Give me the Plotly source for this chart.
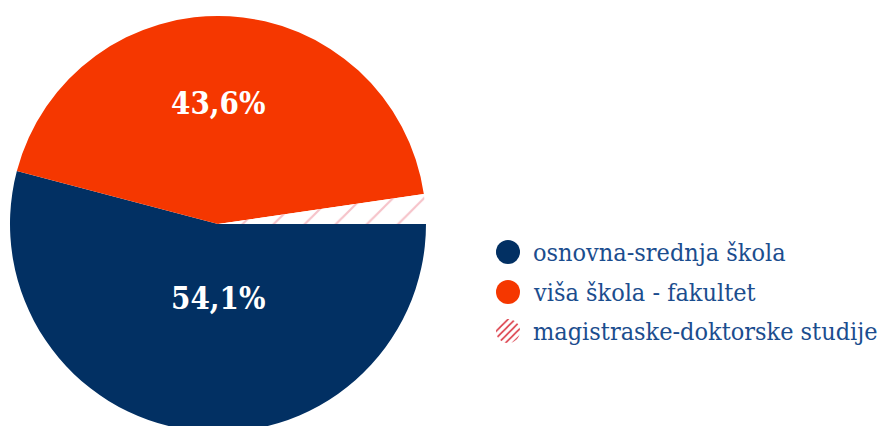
import plotly.graph_objects as go

categories = ["osnovna-srednja škola", "viša škola - fakultet", "magistraske-doktorske studije"]
values = [54.1, 43.6, 2.3]
colors = ["#023063", "#f53700", "#ffffff"]

W, H = 882, 440
cx, cy, r = 218, 224, 208

def px_x(x):
    return x / W

def px_y(y):
    return 1 - y / H

texts = [f"{v:.1f}%".replace(".", ",") for v in values]

fig = go.Figure()
fig.add_trace(go.Pie(
    labels=categories,
    values=values,
    sort=False,
    direction="clockwise",
    rotation=90,
    marker=dict(
        colors=colors,
        line=dict(width=0),
        pattern=dict(shape=["", "", "/"], fgcolor="#e0354a", fgopacity=0.3, bgcolor="#ffffff", size=22, solidity=0.1),
    ),
    textinfo="none",
    domain=dict(x=[px_x(cx - r), px_x(cx + r)], y=[px_y(cy + r), px_y(cy - r)]),
    showlegend=False,
    hoverinfo="label+percent",
))

# slice value labels
label_pos = [(218, 298), (218, 103)]
for i, (lx, ly) in enumerate(label_pos):
    fig.add_annotation(
        text=f"<b>{texts[i]}</b>", x=px_x(lx), y=px_y(ly), xref="paper", yref="paper",
        xanchor="center", yanchor="middle", showarrow=False,
        font=dict(family="DejaVu Serif Condensed, DejaVu Serif", size=31, color="#ffffff"),
    )

# legend: small circular swatches + labels
leg_y = [252, 292, 331]
leg_x = 508
sr = 12
for i, cat in enumerate(categories):
    pat = dict(shape="/", fgcolor="#d9303c", bgcolor="#ffffff", size=5, solidity=0.3) if i == 2 else dict(shape="")
    fig.add_trace(go.Pie(
        labels=[cat], values=[1], sort=False,
        marker=dict(colors=[colors[i]], line=dict(width=0), pattern=pat),
        textinfo="none", hoverinfo="skip", showlegend=False,
        domain=dict(x=[px_x(leg_x - sr), px_x(leg_x + sr)], y=[px_y(leg_y[i] + sr), px_y(leg_y[i] - sr)]),
    ))
    fig.add_annotation(
        text=cat, x=px_x(531), y=px_y(leg_y[i]), xref="paper", yref="paper",
        xanchor="left", yanchor="middle", showarrow=False,
        font=dict(family="DejaVu Serif Condensed, DejaVu Serif", size=25, color="#1b4d8e"),
    )

fig.update_layout(
    width=W, height=H,
    margin=dict(l=0, r=0, t=0, b=0),
    paper_bgcolor="#ffffff",
    plot_bgcolor="#ffffff",
)

fig.write_html(
    "out.html",
    config={"displayModeBar": False},
    post_script="document.documentElement.style.overflow='hidden';document.body.style.overflow='hidden';document.body.style.margin='0';",
)
